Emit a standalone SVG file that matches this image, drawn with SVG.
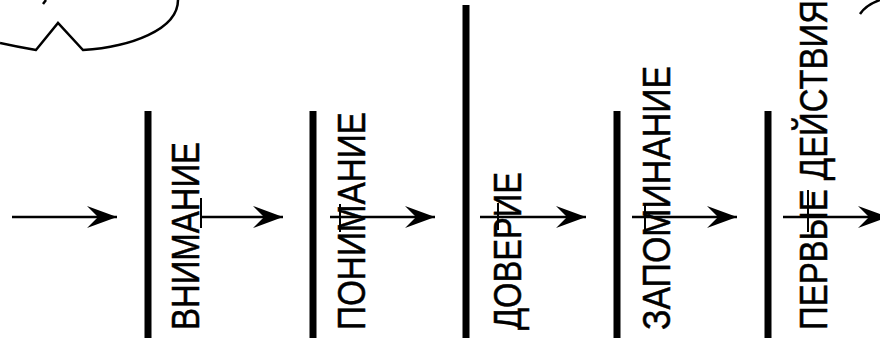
<svg xmlns="http://www.w3.org/2000/svg" width="880" height="338" viewBox="0 0 880 338">
<style>
.bar{fill:#000}
.ln{stroke:#000;stroke-width:2.5;fill:none}
.lbl{font-family:"Liberation Sans",Arial,sans-serif;font-size:39px;fill:#000;stroke:#000;stroke-width:0.5}
.tick{stroke:#000;stroke-width:2}
</style>
<defs>
<marker id="ah" viewBox="0 0 30 22" refX="30" refY="11" markerWidth="30" markerHeight="22" markerUnits="userSpaceOnUse" orient="auto">
<path d="M30,11 L0,0 L11,11 L0,22 Z" fill="#000"/>
</marker>
</defs>
<g id="bubble-left">
<path class="ln" d="M0,43 Q18,47 36,50 L58,23 L83,50 C130,47 178,30 178,0" stroke-width="2"/>
<path class="ln" d="M43,4 L46,0" stroke-width="2"/>
</g>
<g id="bubble-right">
<path class="ln" d="M860,14 Q866,5 880,0" stroke-width="2"/>
</g>
<g id="stage-1">
<rect class="bar" x="144.5" y="111" width="7" height="227"/>
<text class="lbl" transform="translate(199,330) rotate(-90)" textLength="188" lengthAdjust="spacingAndGlyphs">ВНИМАНИЕ</text>
<line class="tick" x1="201" y1="198" x2="201" y2="228"/>
</g>
<g id="stage-2">
<rect class="bar" x="309.5" y="111" width="7" height="227"/>
<text class="lbl" transform="translate(365,330) rotate(-90)" textLength="218" lengthAdjust="spacingAndGlyphs">ПОНИМАНИЕ</text>
<line class="tick" x1="340" y1="204" x2="340" y2="232"/>
</g>
<g id="stage-3">
<rect class="bar" x="462.5" y="5" width="7" height="333"/>
<text class="lbl" transform="translate(521,330) rotate(-90)" textLength="158" lengthAdjust="spacingAndGlyphs">ДОВЕРИЕ</text>
<line class="tick" x1="498" y1="203" x2="498" y2="230"/>
</g>
<g id="stage-4">
<rect class="bar" x="613.5" y="111" width="7" height="227"/>
<text class="lbl" transform="translate(670,330) rotate(-90)" textLength="264" lengthAdjust="spacingAndGlyphs">ЗАПОМИНАНИЕ</text>
<line class="tick" x1="645" y1="203" x2="645" y2="232"/>
</g>
<g id="stage-5">
<rect class="bar" x="764.5" y="111" width="7" height="227"/>
<text class="lbl" transform="translate(827,330) rotate(-90)" textLength="330" lengthAdjust="spacingAndGlyphs">ПЕРВЫЕ ДЕЙСТВИЯ</text>
<line class="tick" x1="808" y1="190" x2="808" y2="232"/>
</g>
<g id="connectors">
<line class="ln" x1="12" y1="217" x2="117" y2="217" marker-end="url(#ah)"/>
<line class="ln" x1="201" y1="217" x2="283" y2="217" marker-end="url(#ah)"/>
<line class="ln" x1="330" y1="217" x2="435" y2="217" marker-end="url(#ah)"/>
<line class="ln" x1="480" y1="217" x2="586" y2="217" marker-end="url(#ah)"/>
<line class="ln" x1="632" y1="217" x2="737" y2="217" marker-end="url(#ah)"/>
<line class="ln" x1="783" y1="217" x2="888" y2="217" marker-end="url(#ah)"/>
</g>
</svg>
